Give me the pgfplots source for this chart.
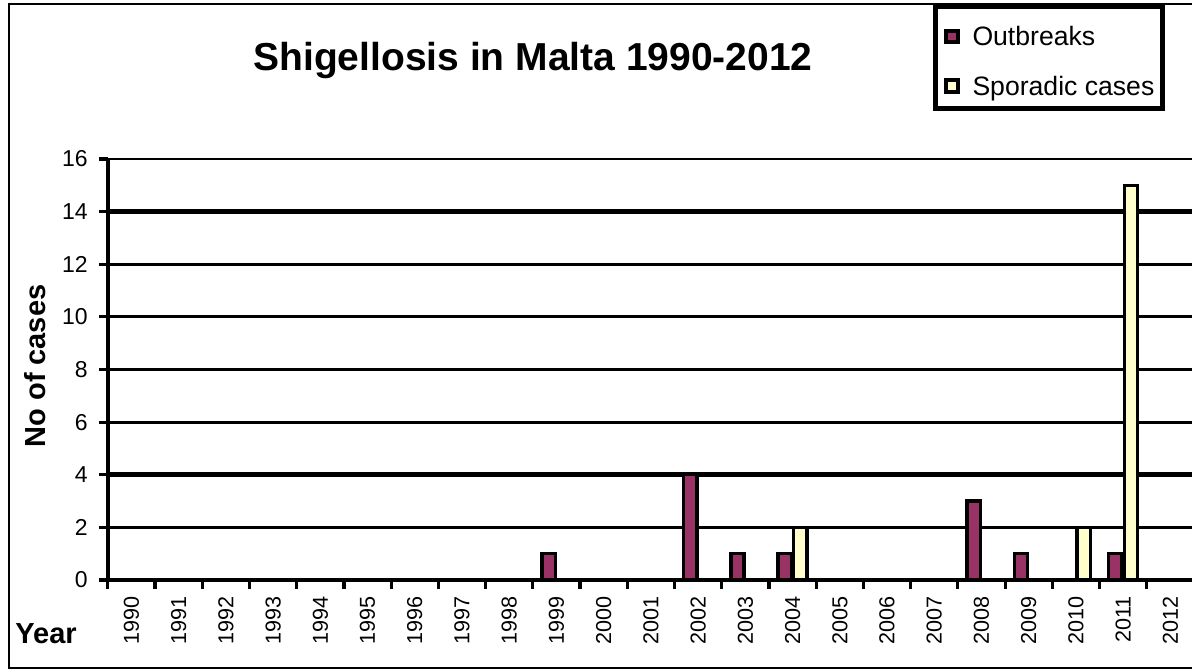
\documentclass[border=0pt]{standalone}
\usepackage{fontspec}
\setmainfont{Liberation Sans}
\usepackage{pgfplots}
\pgfplotsset{compat=1.18}
\definecolor{outb}{HTML}{993366}
\definecolor{spor}{HTML}{FFFFCC}
\pgfplotsset{sq legend/.style={legend image code/.code={\draw[##1,line width=2pt] (0pt,1.85pt) rectangle (5.8pt,7.65pt);}}}
\begin{document}
\begin{tikzpicture}
\useasboundingbox (0,0) rectangle (596pt,-335.5pt);
\clip (0,0) rectangle (596pt,-335.5pt);
\draw[line width=1pt] (4.5pt,-2pt) rectangle (640pt,-333.8pt);
\node[anchor=base, font=\bfseries\fontsize{19.5}{22}\selectfont, inner sep=0pt] at (266.5pt,-35pt) {Shigellosis in Malta 1990-2012};
\node[anchor=base, rotate=90, font=\bfseries\fontsize{14.5}{17}\selectfont, inner sep=0pt] at (22.5pt,-183pt) {No of cases};
\node[anchor=base west, font=\bfseries\fontsize{14.5}{17}\selectfont, inner sep=0pt] at (7.5pt,-321.5pt) {Year};
\begin{axis}[
  at={(53.9pt,-290pt)}, anchor=south west,
  scale only axis, width=543.1pt, height=210.5pt,
  xmin=-0.5, xmax=22.5, ymin=0, ymax=16,
  axis x line*=bottom, axis y line*=left,
  axis line style={line width=1.8pt, black},
  clip=false,
  ytick={0,2,...,14},
  extra y ticks={16},
  extra y tick style={grid style={gray!60, line width=1.2pt}},
  ymajorgrids,
  major grid style={black, line width=1.4pt},
  xtick={-0.5,0.5,...,22.5},
  x tick label as interval,
  xticklabels={1990,1991,1992,1993,1994,1995,1996,1997,1998,1999,2000,2001,2002,2003,2004,2005,2006,2007,2008,2009,2010,2011,2012},
  tick align=outside,
  major tick length=4.5pt,
  tick style={line width=1.6pt, black},
  /pgf/number format/assume math mode=true,
  yticklabel style={font=\fontsize{11.5}{13}\selectfont, black, xshift=-2pt},
  xticklabel style={font=\fontsize{10.8}{12}\selectfont, rotate=90, anchor=east, black},
  legend style={at={(0.7597,1.3682)}, anchor=north west, draw=black, line width=2.5pt, fill=white,
    inner xsep=4.2pt, inner ysep=3.7pt, row sep=6.1pt, column sep=6.5pt,
    font=\fontsize{13.3}{16}\selectfont,
    nodes={inner sep=0pt, text height=15.95pt, text depth=2.8pt},
    cells={anchor=base west}},
]
\draw[black, line width=2.6pt] (axis cs:-0.5,14) -- (axis cs:22.6,14);
\draw[black, line width=2.6pt] (axis cs:-0.5,4) -- (axis cs:22.6,4);
\addplot[ybar, bar width=6.6pt, bar shift=-3.9pt, fill=outb, draw=black, line width=1.7pt, sq legend]
  coordinates {(9,1) (12,4) (13,1) (14,1) (18,3) (19,1) (21,1)};
\addlegendentry{Outbreaks}
\addplot[ybar, bar width=6.6pt, bar shift=3.9pt, fill=spor, draw=black, line width=1.7pt, sq legend]
  coordinates {(14,2) (20,2) (21,15)};
\addlegendentry{Sporadic cases}
\end{axis}
\end{tikzpicture}
\end{document}
